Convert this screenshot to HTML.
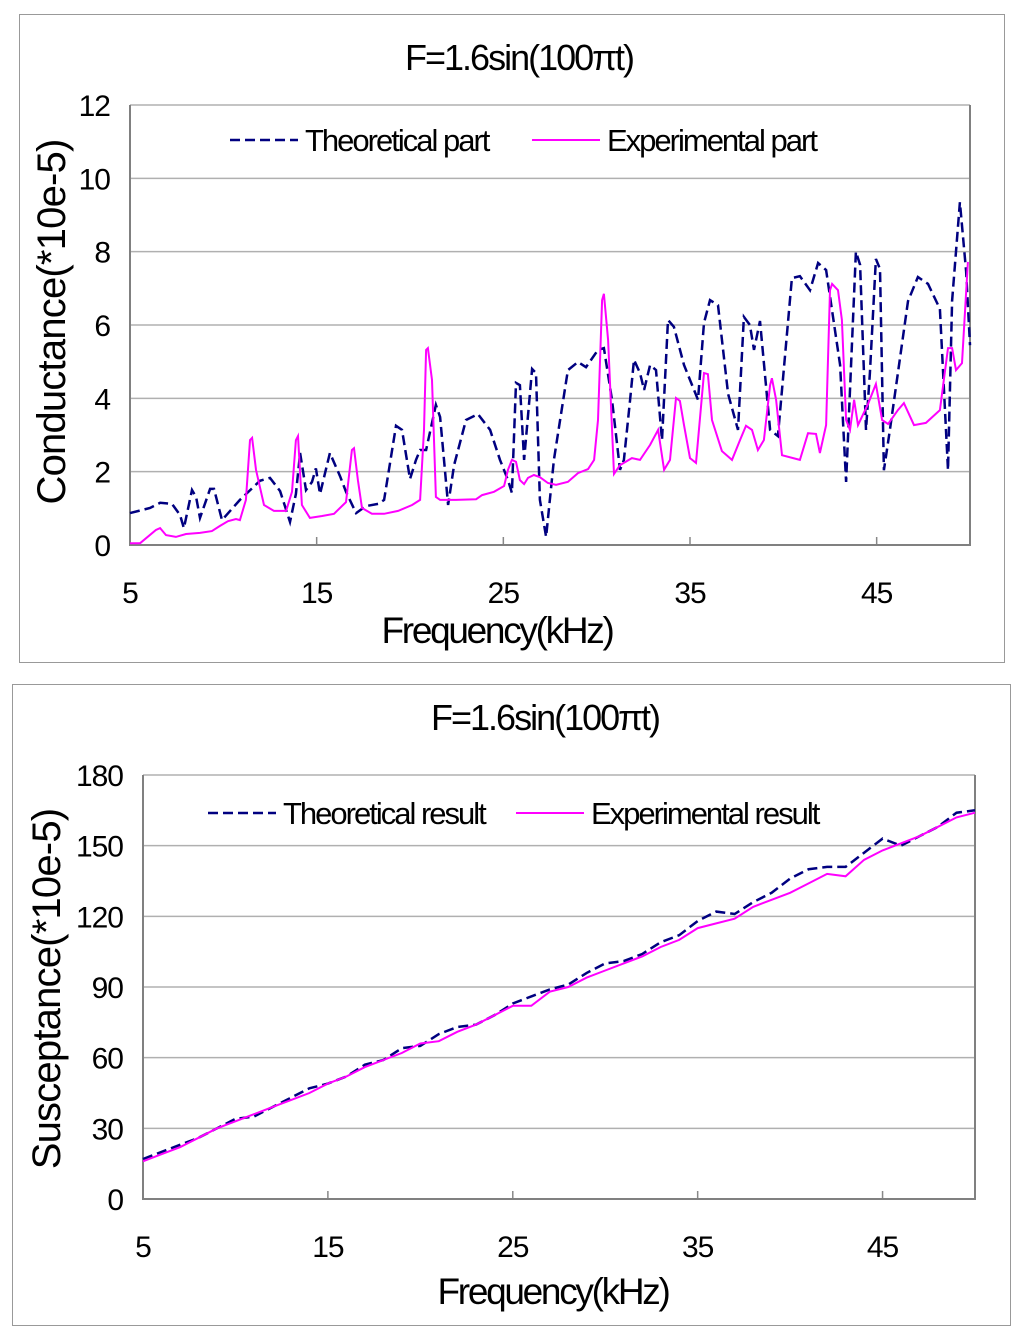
<!DOCTYPE html>
<html><head><meta charset="utf-8"><style>
body{margin:0;background:#fff;width:1024px;height:1339px;overflow:hidden}
svg{display:block}
text{font-family:"Liberation Sans",Arial,sans-serif;fill:#000}
</style></head><body>
<svg id="s" width="1024" height="1339">
<rect x="19.5" y="14.5" width="985" height="648" fill="#fff" stroke="#999"/>
<rect x="12.5" y="684.5" width="998" height="641" fill="#fff" stroke="#999"/>
</svg>
<script>
// ---- Top chart data ----
const topTheoF=[5,6.07,6.61,7.25,7.68,7.89,8.32,8.54,8.75,9.29,9.5,9.93,10.89,11.96,12.5,13.04,13.57,13.89,14.11,14.43,14.75,14.96,15.18,15.71,16.25,16.57,17.11,17.64,18.29,18.61,19.25,19.57,20,20.32,20.54,20.86,21.39,21.61,22.04,22.36,23,23.64,24.29,24.82,25.25,25.46,25.68,25.89,26.11,26.54,26.75,26.96,27.29,27.71,28.04,28.46,29,29.43,30.07,30.39,30.82,31.25,31.46,31.79,32,32.32,32.54,32.86,33.18,33.5,33.82,34.14,34.68,35.43,35.75,36.07,36.5,37.04,37.57,37.89,38.21,38.43,38.75,39.29,39.71,40.46,40.89,41.43,41.86,42.29,43.04,43.36,43.57,43.89,44.11,44.43,44.64,44.96,45.18,45.39,45.71,46.68,47.21,47.75,48.39,48.82,49.04,49.46,49.79,50];
const topTheoV=[0.87,1.01,1.15,1.12,0.82,0.46,1.5,1.31,0.74,1.53,1.53,0.68,1.23,1.75,1.83,1.47,0.63,1.39,2.51,1.5,1.72,2.09,1.39,2.51,1.88,1.45,0.87,1.06,1.12,1.23,3.25,3.14,1.8,2.32,2.59,2.59,3.82,3.49,1.09,2.18,3.41,3.57,3.14,2.32,1.77,1.42,4.42,4.36,2.32,4.8,4.69,1.23,0.22,2.32,3.41,4.77,4.99,4.85,5.32,5.37,3.96,2.05,2.32,3.96,5.05,4.69,4.23,4.91,4.77,2.86,6.14,5.95,4.91,3.96,6.06,6.68,6.54,4.12,3.14,6.22,6,5.32,6.11,3.14,2.97,7.28,7.33,6.95,7.69,7.5,4.91,1.72,4.23,8,7.64,3.14,4.69,7.8,7.53,2.04,3.14,6.65,7.31,7.12,6.44,2.04,6.66,9.35,7.47,5.45];
const topExpF=[5,5.54,6.39,6.61,6.93,7.46,8,8.75,9.39,9.82,10.25,10.68,10.89,11.21,11.43,11.54,11.75,12.18,12.71,13.36,13.68,13.89,14,14.21,14.64,15.29,15.93,16.57,16.89,17,17.21,17.43,17.96,18.61,19.36,20.11,20.54,20.75,20.86,20.96,21.18,21.39,21.61,22.46,23.54,23.86,24.5,25.04,25.25,25.46,25.68,25.89,26.11,26.32,26.64,26.96,27.39,27.82,28.46,29,29.54,29.86,30.07,30.29,30.39,30.61,30.93,31.25,31.89,32.32,32.86,33.29,33.61,33.93,34.25,34.46,34.68,35,35.32,35.75,35.96,36.18,36.71,37.25,37.68,38,38.32,38.64,38.96,39.29,39.39,39.61,39.93,40.89,41.32,41.75,41.96,42.29,42.5,42.61,42.93,43.14,43.36,43.57,43.79,44,44.54,44.96,45.29,45.61,46.14,46.46,47,47.64,48.39,48.82,49.04,49.25,49.57,49.89];
const topExpV=[0.05,0.05,0.41,0.46,0.27,0.22,0.3,0.33,0.38,0.52,0.65,0.71,0.68,1.23,2.86,2.92,2.05,1.09,0.93,0.93,1.45,2.86,2.97,1.09,0.74,0.79,0.85,1.17,2.59,2.64,1.77,1.01,0.85,0.85,0.93,1.09,1.23,3.14,5.32,5.37,4.5,1.31,1.23,1.23,1.25,1.36,1.45,1.61,2.05,2.32,2.27,1.77,1.66,1.83,1.91,1.85,1.69,1.64,1.72,1.96,2.07,2.32,3.41,6.68,6.85,5.59,1.94,2.18,2.37,2.32,2.73,3.14,2.05,2.32,4.01,3.93,3.27,2.37,2.24,4.69,4.66,3.41,2.56,2.32,2.86,3.25,3.14,2.59,2.86,4.36,4.55,3.96,2.45,2.32,3.05,3.03,2.51,3.27,6.95,7.12,6.95,6.14,3.41,3.14,3.96,3.27,3.85,4.39,3.41,3.3,3.68,3.87,3.27,3.33,3.68,5.37,5.37,4.77,4.96,7.72];
const topYTicks=[0,2,4,6,8,10,12];
const topXTicks=[5,15,25,35,45];
// ---- Bottom chart data ----
const botF=[5,6,7,8,9,10,11,12,13,14,15,16,17,18,19,20,21,22,23,24,25,26,27,28,29,30,31,32,33,34,35,36,37,38,39,40,41,42,43,44,45,46,47,48,49,50];
const botTheo=[17,20,23,26,30,34,35,39,43,47,49,52,57,59,64,65,70,73,74,78,83,86,89,91,96,100,101,104,109,112,118,122,121,126,130,136,140,141,141,147,153,150,154,158,164,165];
const botExp=[16,19,22,26,30,33,36,39,42,45,49,52,56,59,62,66,67,71,74,78,82,82,88,90,94,97,100,103,107,110,115,117,119,124,127,130,134,138,137,144,148,151,154,158,162,164];
const botYTicks=[0,30,60,90,120,150,180];
const botXTicks=[5,15,25,35,45];

const NS='http://www.w3.org/2000/svg';
const svg=document.getElementById('s');
function mk(tag,attrs,txt){const e=document.createElementNS(NS,tag);for(const k in attrs)e.setAttribute(k,attrs[k]);if(txt!==undefined)e.textContent=txt;svg.appendChild(e);return e;}

function chart(c){
  const sx=f=>c.x0+(f-5)/(50-5)*(c.x1-c.x0);
  const sy=v=>c.y0-(v-c.ymin)/(c.ymax-c.ymin)*(c.y0-c.y1);
  for(const t of c.yt){
    const g=mk('line',{x1:c.x0,x2:c.x1,y1:sy(t),y2:sy(t),stroke:'#b0b0b0','stroke-width':1.5});
    
    
    const l=mk('text',{x:c.x0-20,y:sy(t)+11,'text-anchor':'end','font-size':30,'letter-spacing':'-1'},String(t));
    
    
  }
  for(const t of c.xt){
    const m=mk('line',{x1:sx(t),x2:sx(t),y1:c.y0,y2:c.y0-8,stroke:'#888','stroke-width':1.5});
    
    
    const l=mk('text',{x:sx(t),y:c.y0+58,'text-anchor':'middle','font-size':30,'letter-spacing':'-1'},String(t));
    
    
  }
  const ax=mk('polyline',{points:`${c.x0},${c.y1} ${c.x0},${c.y0} ${c.x1},${c.y0} ${c.x1},${c.y1}`,fill:'none',stroke:'#808080','stroke-width':2});
  
  
  const pts=(F,V)=>F.map((f,i)=>sx(f).toFixed(1)+','+sy(V[i]).toFixed(1)).join(' ');
  const th=mk('polyline',{points:pts(c.tf,c.tv),fill:'none',stroke:'#000080','stroke-width':2.5,'stroke-dasharray':'10,5'});
  
  
  const ex=mk('polyline',{points:pts(c.ef,c.ev),fill:'none',stroke:'#ff00ff','stroke-width':2});
  
  
  const tt=mk('text',{x:c.tx,y:c.ty,'text-anchor':'middle','font-size':36,'letter-spacing':'-2'},'F=1.6sin(100πt)');
  
  
  const xt=mk('text',{x:c.xtx,y:c.xty,'text-anchor':'middle','font-size':37,'letter-spacing':'-2.3'},'Frequency(kHz)');
  
  
  const yt=mk('text',{x:0,y:0,'text-anchor':'middle','font-size':40,'letter-spacing':'-0.8',transform:`translate(${c.ytx},${c.yty}) rotate(-90)`},c.ylab);
  
  
  const l1=mk('line',{x1:c.lg[0],x2:c.lg[0]+68,y1:c.lgy,y2:c.lgy,stroke:'#000080','stroke-width':2.5,'stroke-dasharray':'10,5'});
  
  
  const t1=mk('text',{x:c.lg[0]+75,y:c.lgy+11,'font-size':31,'letter-spacing':'-2'},c.leg[0]);
  
  
  const l2=mk('line',{x1:c.lg[1],x2:c.lg[1]+68,y1:c.lgy,y2:c.lgy,stroke:'#ff00ff','stroke-width':2});
  
  
  const t2=mk('text',{x:c.lg[1]+75,y:c.lgy+11,'font-size':31,'letter-spacing':'-2'},c.leg[1]);
  
  
}
chart({p:'top',x0:130,x1:970,y0:545,y1:105,ymin:0,ymax:12,yt:topYTicks,xt:topXTicks,tf:topTheoF,tv:topTheoV,ef:topExpF,ev:topExpV,
  tx:519,ty:70,xtx:497,xty:643,ytx:65,yty:322,ylab:'Conductance(*10e-5)',lg:[230,532],lgy:140,leg:['Theoretical part','Experimental part']});
chart({p:'bottom',x0:143,x1:975,y0:1199,y1:775,ymin:0,ymax:180,yt:botYTicks,xt:botXTicks,tf:botF,tv:botTheo,ef:botF,ev:botExp,
  tx:545,ty:730,xtx:553,xty:1304,ytx:60,yty:989,ylab:'Susceptance(*10e-5)',lg:[208,516],lgy:813,leg:['Theoretical result','Experimental result']});
</script>
</body></html>
